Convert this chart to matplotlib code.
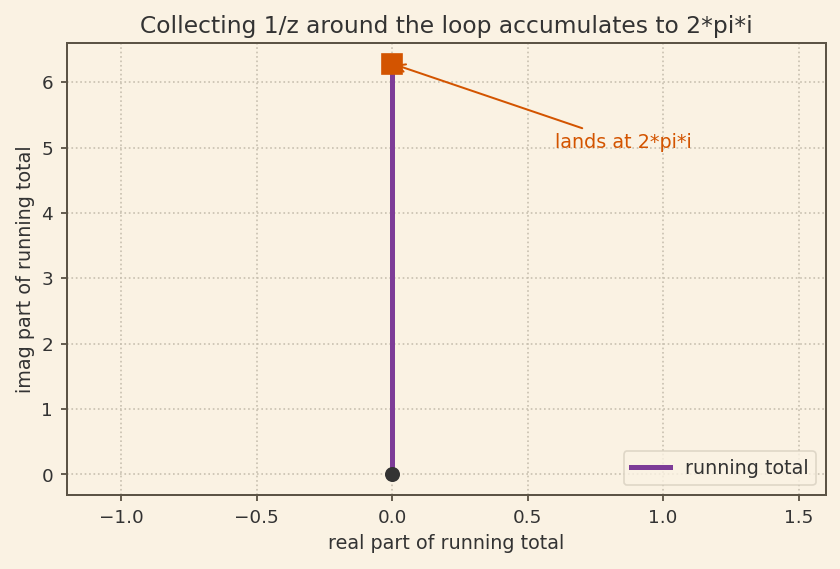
import numpy as np
import matplotlib.pyplot as plt

# running total of 1/z dz around the unit circle (real part stays at 0)
real_total = [0.0, 0.0, 0.0, 0.0, 0.0]
imag_total = [0.0, 1.5708, 3.1416, 4.7124, 6.2832]

bg = '#faf2e3'
ink = '#333333'
purple = '#7d3c98'
orange = '#d35400'

plt.rcParams['font.family'] = 'DejaVu Sans'
plt.rcParams['text.color'] = ink
plt.rcParams['axes.labelcolor'] = ink
plt.rcParams['xtick.color'] = ink
plt.rcParams['ytick.color'] = ink

fig, ax = plt.subplots(figsize=(7.0, 4.742), dpi=120)
fig.patch.set_facecolor(bg)
ax.set_facecolor(bg)

ax.plot(real_total, imag_total, color=purple, linewidth=3, label='running total', zorder=3)
ax.plot(real_total[0], imag_total[0], 'o', color=ink, markersize=8, zorder=4)
ax.plot(real_total[-1], imag_total[-1], 's', color=orange, markersize=12, zorder=4)

ax.annotate('lands at 2*pi*i', xy=(real_total[-1], imag_total[-1]), xytext=(0.6, 5.0),
            color=orange, fontsize=11.5,
            arrowprops=dict(arrowstyle='->', color=orange, lw=1.2))

ax.set_xlim(-1.2, 1.6)
ax.set_title('Collecting 1/z around the loop accumulates to 2*pi*i', fontsize=14)
ax.set_xlabel('real part of running total', fontsize=11.5)
ax.set_ylabel('imag part of running total', fontsize=11.5)
ax.tick_params(labelsize=11, width=1.1, pad=5, color='#5c5446')
ax.grid(True, linestyle=':', color='#c8c0b0', linewidth=1)
for s in ax.spines.values():
    s.set_color('#5c5446')
    s.set_linewidth(1.2)

leg = ax.legend(loc='lower right', fontsize=11.5, facecolor=bg, edgecolor='#d8d0c0')

fig.subplots_adjust(left=0.08, right=0.983, top=0.924, bottom=0.13)
plt.savefig('out.png', facecolor=bg)
